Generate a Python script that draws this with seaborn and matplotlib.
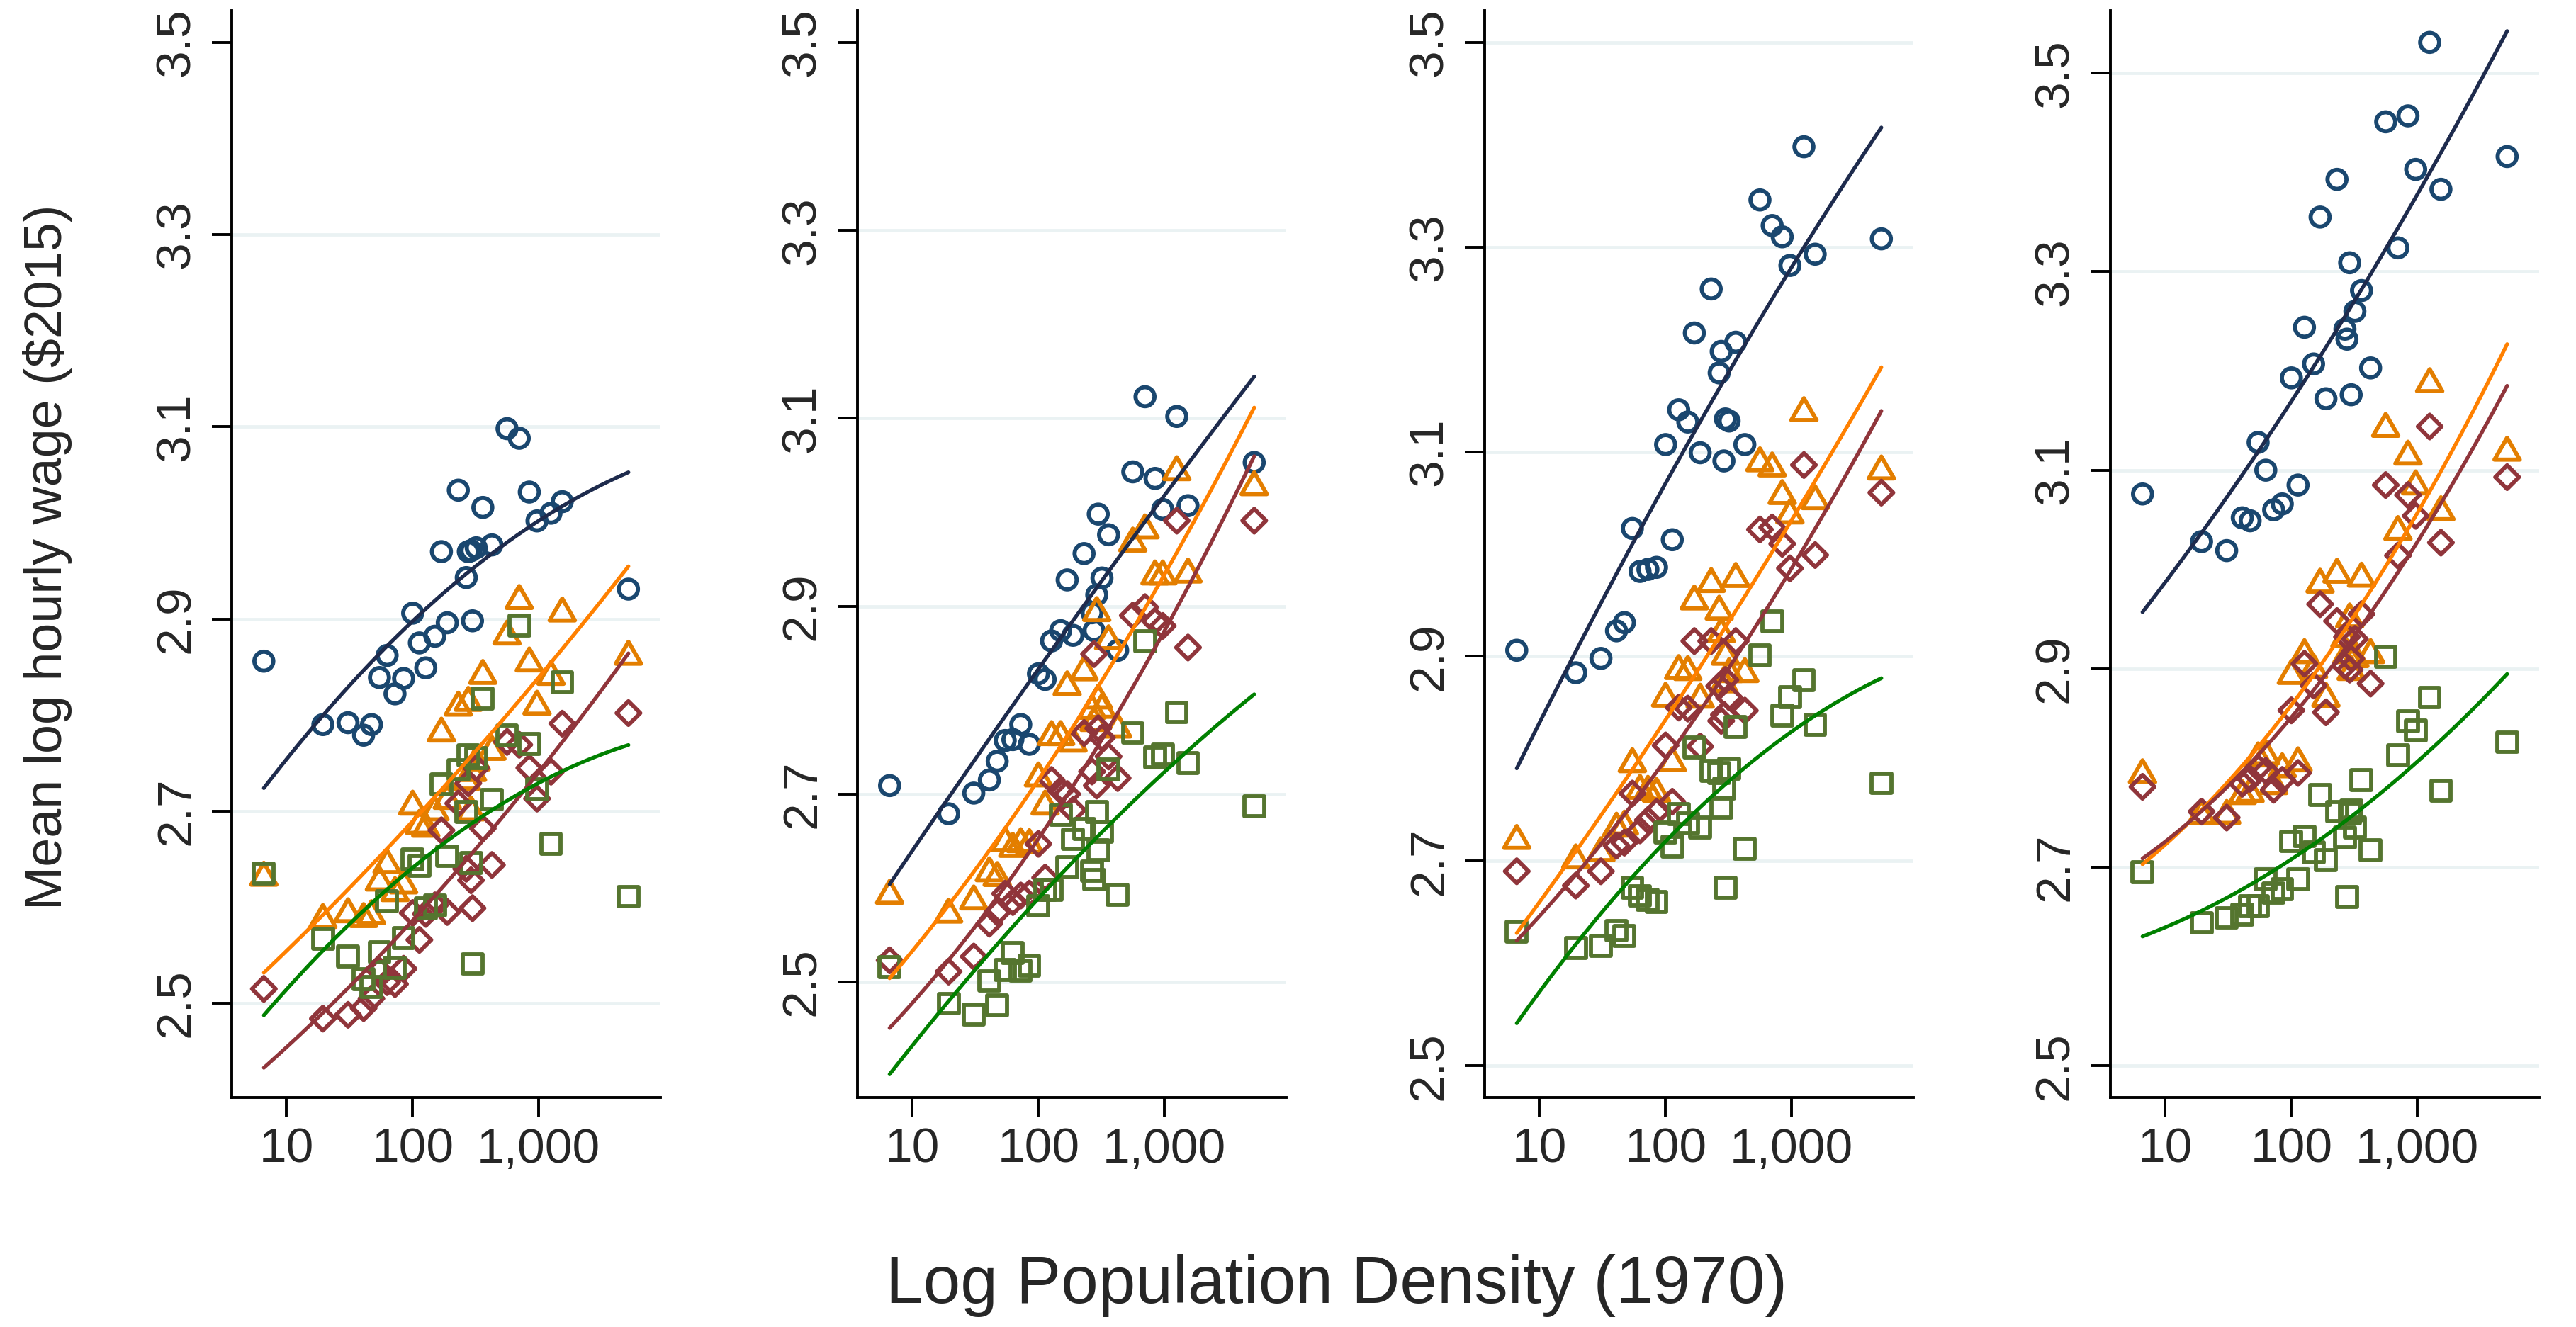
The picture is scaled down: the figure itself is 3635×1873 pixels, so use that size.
import numpy as np
import matplotlib
matplotlib.use("Agg")
import matplotlib.pyplot as plt
from matplotlib.path import Path
from matplotlib.markers import MarkerStyle
import seaborn as sns

# population density (1970) of each region, same regions in every group and panel
density = [6.6, 19.4, 30.7, 40.8, 47.1, 54.5, 62.7, 72.4, 84.7, 100,
           113, 127, 150, 169, 188, 230, 266, 276, 290, 298,
           319, 360, 425, 560, 700, 841, 968, 1250, 1535, 5140]

# mean log hourly wage, panel 1
p1_navy = [2.856, 2.790, 2.792, 2.779, 2.790, 2.839, 2.862, 2.822, 2.838, 2.906,
           2.875, 2.849, 2.882, 2.970, 2.896, 3.034, 2.943, 2.970, 2.971, 2.898,
           2.974, 3.016, 2.977, 3.098, 3.088, 3.032, 3.002, 3.010, 3.022, 2.931]
p1_orange = [2.631, 2.587, 2.593, 2.588, 2.591, 2.626, 2.644, 2.615, 2.623, 2.705,
             2.685, 2.682, 2.699, 2.781, 2.711, 2.808, 2.731, 2.813, 2.699, 2.740,
             2.751, 2.841, 2.762, 2.882, 2.919, 2.854, 2.809, 2.840, 2.906, 2.861]
p1_maroon = [2.515, 2.484, 2.488, 2.495, 2.505, 2.534, 2.522, 2.520, 2.536, 2.594,
             2.566, 2.593, 2.602, 2.680, 2.595, 2.708, 2.640, 2.729, 2.628, 2.599,
             2.745, 2.682, 2.644, 2.772, 2.769, 2.745, 2.713, 2.741, 2.791, 2.802]
p1_green = [2.635, 2.567, 2.549, 2.525, 2.517, 2.553, 2.606, 2.537, 2.568, 2.650,
            2.643, 2.599, 2.602, 2.728, 2.653, 2.743, 2.699, 2.758, 2.646, 2.541,
            2.755, 2.817, 2.712, 2.779, 2.893, 2.770, 2.723, 2.666, 2.834, 2.611]

# panel 2
p2_navy = [2.709, 2.679, 2.701, 2.715, 2.735, 2.757, 2.758, 2.774, 2.753, 2.828,
           2.822, 2.863, 2.874, 2.928, 2.869, 2.956, 2.893, 2.874, 2.912, 2.998,
           2.930, 2.976, 2.853, 3.043, 3.123, 3.036, 3.003, 3.102, 3.007, 3.053]
p2_orange = [2.592, 2.572, 2.586, 2.616, 2.611, 2.648, 2.642, 2.647, 2.646, 2.717,
             2.687, 2.761, 2.761, 2.814, 2.754, 2.830, 2.789, 2.776, 2.893, 2.800,
             2.790, 2.863, 2.769, 2.967, 2.981, 2.932, 2.932, 3.043, 2.934, 3.027]
p2_maroon = [2.523, 2.511, 2.527, 2.562, 2.574, 2.594, 2.585, 2.592, 2.594, 2.647,
             2.611, 2.715, 2.704, 2.700, 2.683, 2.765, 2.724, 2.849, 2.709, 2.770,
             2.760, 2.740, 2.717, 2.890, 2.899, 2.884, 2.879, 2.991, 2.856, 2.991]
p2_green = [2.516, 2.477, 2.465, 2.501, 2.475, 2.513, 2.531, 2.512, 2.517, 2.581,
            2.598, 2.598, 2.678, 2.622, 2.652, 2.663, 2.618, 2.609, 2.681, 2.640,
            2.660, 2.726, 2.593, 2.765, 2.863, 2.739, 2.742, 2.787, 2.733, 2.687]

# panel 3
p3_navy = [2.906, 2.884, 2.898, 2.925, 2.933, 3.025, 2.983, 2.985, 2.987, 3.107,
           3.014, 3.141, 3.129, 3.216, 3.099, 3.259, 3.177, 3.198, 3.091, 3.132,
           3.130, 3.207, 3.107, 3.346, 3.321, 3.310, 3.282, 3.398, 3.293, 3.308]
p3_orange = [2.720, 2.701, 2.708, 2.732, 2.734, 2.795, 2.769, 2.768, 2.766, 2.859,
             2.796, 2.886, 2.885, 2.954, 2.858, 2.971, 2.944, 2.922, 2.873, 2.900,
             2.883, 2.976, 2.883, 3.089, 3.084, 3.057, 3.038, 3.138, 3.052, 3.081]
p3_maroon = [2.690, 2.676, 2.690, 2.715, 2.718, 2.766, 2.730, 2.740, 2.748, 2.813,
             2.758, 2.850, 2.849, 2.915, 2.812, 2.915, 2.871, 2.837, 2.843, 2.877,
             2.860, 2.915, 2.847, 3.024, 3.026, 3.010, 2.986, 3.087, 2.999, 3.060]
p3_green = [2.631, 2.615, 2.617, 2.632, 2.627, 2.674, 2.666, 2.662, 2.660, 2.728,
            2.714, 2.746, 2.737, 2.811, 2.733, 2.788, 2.786, 2.752, 2.771, 2.674,
            2.790, 2.831, 2.712, 2.901, 2.934, 2.842, 2.860, 2.877, 2.833, 2.776]

# panel 4
p4_navy = [3.076, 3.028, 3.019, 3.052, 3.049, 3.128, 3.100, 3.060, 3.066, 3.193,
           3.085, 3.244, 3.207, 3.355, 3.172, 3.393, 3.242, 3.232, 3.309, 3.176,
           3.260, 3.281, 3.203, 3.451, 3.324, 3.457, 3.403, 3.531, 3.383, 3.416]
p4_orange = [2.793, 2.752, 2.752, 2.772, 2.774, 2.810, 2.812, 2.782, 2.799, 2.893,
             2.805, 2.914, 2.899, 2.985, 2.870, 2.995, 2.930, 2.914, 2.950, 2.897,
             2.910, 2.991, 2.914, 3.142, 3.038, 3.114, 3.084, 3.187, 3.058, 3.118]
p4_maroon = [2.781, 2.756, 2.750, 2.784, 2.789, 2.800, 2.797, 2.778, 2.788, 2.858,
             2.795, 2.905, 2.883, 2.965, 2.856, 2.948, 2.903, 2.932, 2.899, 2.910,
             2.930, 2.955, 2.885, 3.085, 3.014, 3.075, 3.054, 3.144, 3.027, 3.093]
p4_green = [2.695, 2.644, 2.649, 2.652, 2.661, 2.661, 2.688, 2.674, 2.678, 2.726,
            2.688, 2.731, 2.715, 2.773, 2.707, 2.756, 2.730, 2.670, 2.754, 2.757,
            2.740, 2.788, 2.717, 2.912, 2.813, 2.847, 2.838, 2.871, 2.777, 2.826]

y_ticks = [2.5, 2.7, 2.9, 3.1, 3.3, 3.5]
y_labels = ["2.5", "2.7", "2.9", "3.1", "3.3", "3.5"]
x_ticks = [10, 100, 1000]
x_labels = ["10", "100", "1,000"]

panels = [
    (p1_navy, p1_orange, p1_maroon, p1_green),
    (p2_navy, p2_orange, p2_maroon, p2_green),
    (p3_navy, p3_orange, p3_maroon, p3_green),
    (p4_navy, p4_orange, p4_maroon, p4_green),
]
ylims = [(2.402, 3.533), (2.377, 3.534), (2.469, 3.531), (2.468, 3.563)]
grid_top = [False, False, True, True]   # gridline at 3.5 or not

# equilateral triangle, centred on its centroid
tri = MarkerStyle(Path([(0, 1), (-0.866, -0.5), (0.866, -0.5), (0, 1)], closed=True))

# marker, size, marker colour, line colour
styles = [
    ("o", 370, "#1a476f", "#1e2b4d"),
    (tri, 880, "#e37e00", "#ff8000"),
    ("D", 290, "#90353b", "#90353b"),
    ("s", 400, "#55752f", "#008000"),
]

sns.set_style("white")
plt.rcParams["font.family"] = ["Liberation Sans", "DejaVu Sans"]

W, H = 3635, 1873
fig = plt.figure(figsize=(W / 100, H / 100), dpi=100)

left_px = [327, 1210, 2095, 2978]
logd = np.log10(density)

for i, series in enumerate(panels):
    ax = fig.add_axes([left_px[i] / W, 1 - 1549 / H, 605 / W, (1549 - 15) / H])

    for vals, (m, s, mc, lc) in zip(series, styles):
        sns.scatterplot(x=logd, y=vals, marker=m, s=s, color=mc,
                        facecolors="none", edgecolor=mc, linewidth=4.2,
                        ax=ax, zorder=3, legend=False)
    for vals, (m, s, mc, lc) in zip(series, styles):
        sns.regplot(x=logd, y=np.array(vals), order=2, ci=None, scatter=False,
                    color=lc, line_kws={"linewidth": 3.8, "zorder": 4}, ax=ax)

    ax.set_xlim(0.565, 3.965)
    ax.set_ylim(*ylims[i])
    ax.set_xticks(np.log10(x_ticks), x_labels)
    ax.set_yticks(y_ticks, y_labels)
    ax.set_xlabel("")
    ax.set_ylabel("")

    ax.set_axisbelow(True)
    ax.yaxis.grid(True, color="#eaf2f3", linewidth=3.4)
    ax.xaxis.grid(False)
    if not grid_top[i]:
        ax.get_ygridlines()[-1].set_visible(False)

    for side in ["top", "right"]:
        ax.spines[side].set_visible(False)
    for side in ["left", "bottom"]:
        ax.spines[side].set_linewidth(2.8)
        ax.spines[side].set_color("black")

    ax.tick_params(axis="both", direction="out", length=20, width=2.8,
                   color="black", labelsize=50, left=True, bottom=True)
    ax.tick_params(axis="x", pad=10)
    ax.tick_params(axis="y", pad=13, labelrotation=90)
    for lab in ax.get_yticklabels():
        lab.set_va("center")

fig.text(67 / W, 1 - 786 / H, "Mean log hourly wage ($2015)", rotation=90,
         ha="center", va="center", fontsize=53)
fig.text(1886 / W, 1 - 1839 / H, "Log Population Density (1970)",
         ha="center", va="baseline", fontsize=68)

fig.savefig("out.png", dpi=100)
